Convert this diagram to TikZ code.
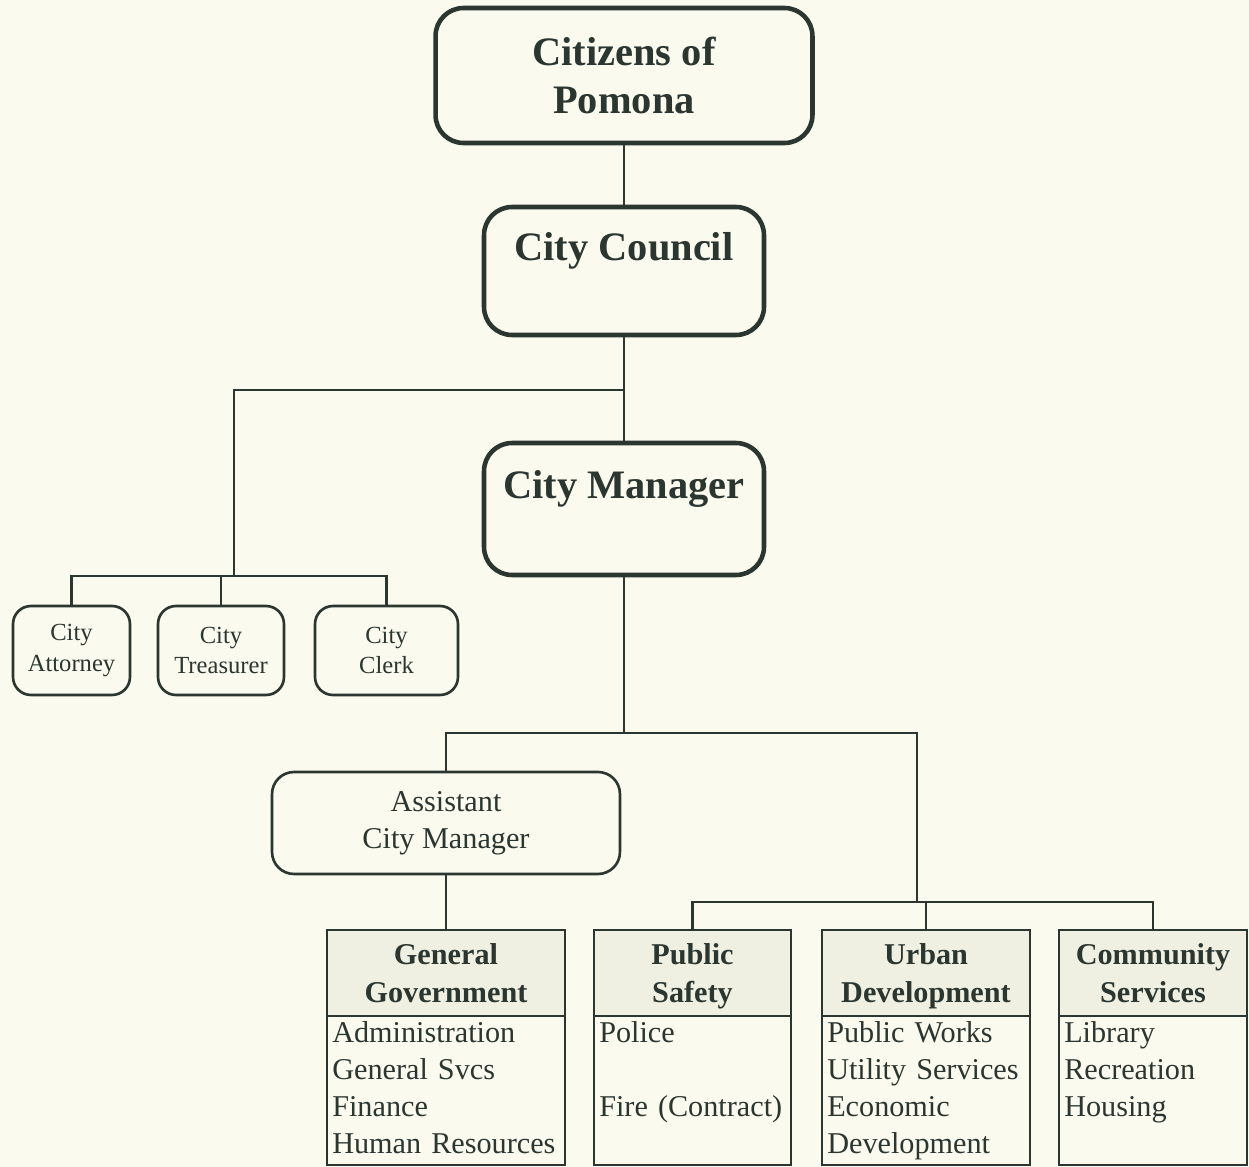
\documentclass[tikz,border=0pt]{standalone}
\usepackage{fontspec}
\setmainfont{Liberation Serif}
\usepackage{xcolor}
\usepackage{tikz}
\usetikzlibrary{positioning}
\definecolor{paper}{HTML}{FAFAEE}
\definecolor{ink}{HTML}{2B3630}
\definecolor{shade}{HTML}{F0F0E2}

\begin{document}
\begin{tikzpicture}[x=0.02cm, y=-0.02cm, ink, line width=1.5pt, chief/.style={draw, rounded corners=0.56cm, line width=2.6pt, align=center, inner sep=0pt, font=\bfseries\fontsize{23}{27.6}\selectfont}, staff/.style={draw, rounded corners=0.36cm, align=center, inner sep=0pt, minimum height=1.78cm, font=\fontsize{14}{17.6}\selectfont}, deputy/.style={draw, rounded corners=0.44cm, align=center, inner sep=0pt, font=\fontsize{17.2}{21}\selectfont}, dhead/.style={draw, fill=shade, anchor=north, align=center, inner sep=0pt, outer sep=0pt, minimum height=1.72cm, text depth=0pt, font=\bfseries\fontsize{17.2}{21.6}\selectfont}, dlist/.style={draw, align=left, inner xsep=3pt, inner ysep=1pt, outer sep=0pt, minimum height=2.98cm, execute at end node=\vphantom{y}, font=\fontsize{17.2}{21}\selectfont}]
	\fill[paper] (0,0) rectangle (1249,1167);
	\useasboundingbox (0,0) rectangle (1249,1167);
	\node[chief, minimum width=7.54cm, minimum height=2.7cm] (cit) at (624,75.5) {Citizens of\\Pomona};
	\node[chief, minimum width=5.6cm, minimum height=2.56cm] (cou) at (624,271) {City Council\\[-8pt]\strut};
	\node[chief, minimum width=5.6cm, minimum height=2.64cm] (man) at (624,509) {City Manager\\[-8pt]\strut};
	\node[staff, minimum width=2.34cm] (att) at (71.5,650.5) {City\\Attorney};
	\node[staff, minimum width=2.52cm] (tre) at (221,650.5) {City\\Treasurer};
	\node[staff, minimum width=2.86cm] (clk) at (386.5,650.5) {City\\Clerk};
	\node[deputy, minimum width=6.96cm, minimum height=2.04cm] (acm) at (446,823) {Assistant\\City Manager};
	\node[dhead, minimum width=4.76cm] (gg) at (446,930) {General\\Government};
	\node[dhead, minimum width=3.94cm] (ps) at (692.5,930) {Public\\Safety};
	\node[dhead, minimum width=4.16cm] (ud) at (926,930) {Urban\\Development};
	\node[dhead, minimum width=3.76cm] (cs) at (1153,930) {Community\\Services};
	\node[dlist, text width=4.55cm, below=0pt of gg] (ggl) {Administration\\General Svcs\\Finance\\Human Resources};
	\node[dlist, text width=3.73cm, below=0pt of ps] (psl) {Police\\\mbox{}\\Fire (Contract)\\\mbox{}};
	\node[dlist, text width=3.95cm, below=0pt of ud] (udl) {Public Works\\Utility Services\\Economic\\Development};
	\node[dlist, text width=3.55cm, below=0pt of cs] (csl) {Library\\Recreation\\Housing\\\mbox{}};
	\coordinate (j1) at (624,390);
	\coordinate (j2) at (234,576);
	\coordinate (j3) at (624,733);
	\coordinate (j4) at (917,902);
	\draw (cit) -- (cou);
	\draw (cou) -- (man);
	\draw (j1) -| (j2) -| (att.north);
	\draw (j2) -| (tre.north);
	\draw (j2) -| (clk.north);
	\draw (man) -- (j3) -| (acm.north);
	\draw (j3) -| (j4) -| (ps.north);
	\draw (j4) -| (ud.north);
	\draw (j4) -| (cs.north);
	\draw (acm) -- (gg);
\end{tikzpicture}
\end{document}
